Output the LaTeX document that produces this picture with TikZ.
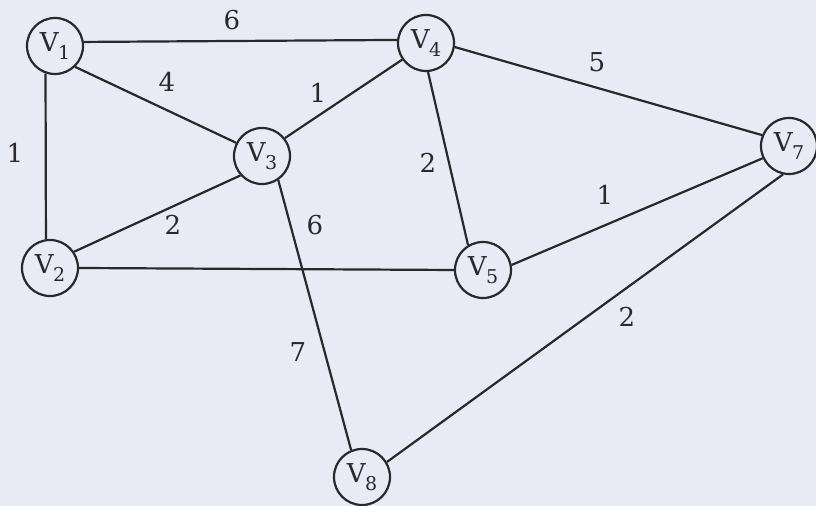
\documentclass[tikz,border=0pt]{standalone}
\usepackage{fontspec}
\setmainfont{DejaVu Serif}
\definecolor{paper}{RGB}{232,234,245}
\definecolor{ink}{RGB}{40,40,45}
\newcommand{\vx}[1]{V\kern-0.3pt\raisebox{-0.55ex}{\fontsize{9.5}{10}\selectfont #1}}
\begin{document}
\begin{tikzpicture}[x=0.5pt,y=-0.5pt,
  vertex/.style={circle,draw=ink,line width=1.1pt,minimum size=28pt,inner sep=0pt,text=ink,font=\fontsize{13}{14}\selectfont},
  edge/.style={draw=ink,line width=1.1pt},
  wt/.style={text=ink,font=\fontsize{13}{14}\selectfont,inner sep=0pt}]
\fill[paper] (0,0) rectangle (816,506);
\useasboundingbox (0,0) rectangle (816,506);
\node[vertex] (V1) at (55,46) {\vx{1}};
\node[vertex] (V4) at (426,43) {\vx{4}};
\node[vertex] (V3) at (262,156) {\vx{3}};
\node[vertex] (V7) at (789,146) {\vx{7}};
\node[vertex] (V2) at (50,268) {\vx{2}};
\node[vertex] (V5) at (483,270) {\vx{5}};
\node[vertex] (V8) at (362,477) {\vx{8}};
\draw[edge] (V1.8) -- (V4.174);
\draw[edge] (V1.-46) -- (V3.153);
\draw[edge] (V1.251) -- (V2.98);
\draw[edge] (V3.38) -- (V4.215);
\draw[edge] (V4.-8) -- (V7.158);
\draw[edge] (V4.-86) -- (V5.121);
\draw[edge] (V2.34) -- (V3.222);
\draw[edge] (V2.0) -- (V5.180);
\draw[edge] (V3.-56) -- (V8.112);
\draw[edge] (V5.10) -- (V7.205);
\draw[edge] (V7.258) -- (V8.31);
\node[wt] (w14) at (232,20) {6};
\node[wt] (w13) at (167,82) {4};
\node[wt] (w34) at (318,93) {1};
\node[wt] (w47) at (597,62) {5};
\node[wt] (w12) at (15,153) {1};
\node[wt] (w45) at (428,163) {2};
\node[wt] (w57) at (605,195) {1};
\node[wt] (w23) at (173,225) {2};
\node[wt] (w25) at (315,225) {6};
\node[wt] (w38) at (298,352) {7};
\node[wt] (w78) at (627,317) {2};
\end{tikzpicture}
\end{document}
